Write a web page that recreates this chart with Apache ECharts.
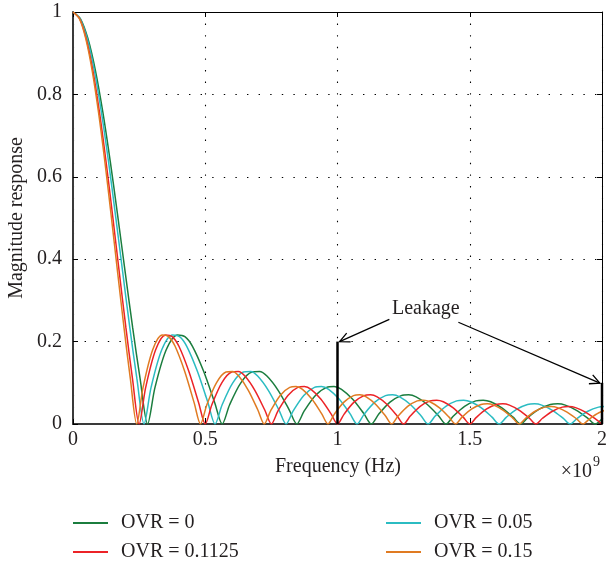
<!DOCTYPE html>
<html><head><meta charset="utf-8">
<script src="https://cdn.jsdelivr.net/npm/echarts@6/dist/echarts.min.js"></script>
<style>html,body{margin:0;padding:0;background:#fff}#c{width:608px;height:563px}</style>
</head><body><div id="c"></div>
<script>
// ---- data (frequency in units of 1e9 Hz, magnitude response) ----
const seriesNames = ['OVR = 0', 'OVR = 0.05', 'OVR = 0.1125', 'OVR = 0.15'];
const xTickLabels = ['0', '0.5', '1', '1.5', '2'];
const yTickLabels = ['0', '0.2', '0.4', '0.6', '0.8', '1'];

const freqGreen = [0,0.0282,0.0564,0.0846,0.1128,0.141,0.1692,0.1974,0.2256,0.2538,0.282,
 0.3102,0.3525,0.3948,0.423,0.4512,0.4935,0.5358,0.564,
 0.5922,0.6345,0.6768,0.705,0.7332,0.7755,0.8178,0.846,
 0.8742,0.9165,0.9588,0.987,1.0152,1.0575,1.0998,1.128,
 1.1562,1.1985,1.2408,1.269,1.2972,1.3395,1.3818,1.41,
 1.4382,1.4805,1.5228,1.551,1.5792,1.6215,1.6638,1.692,
 1.7202,1.7625,1.8048,1.833,1.8612,1.9035,1.9458,1.974,
 2.0022];
const magGreen = [1,0.9836,0.9355,0.8584,0.7568,0.6366,0.5046,0.3679,0.2339,0.1093,0,
 0.0894,0.1801,0.2162,0.2122,0.1892,0.1286,0.0518,0,
 0.0468,0.1000,0.1261,0.1273,0.1164,0.0818,0.0339,0,
 0.0317,0.0693,0.0890,0.0909,0.0841,0.0600,0.0252,0,
 0.0240,0.0530,0.0688,0.0707,0.0658,0.0474,0.0201,0,
 0.0193,0.0429,0.0561,0.0579,0.0541,0.0391,0.0167,0,
 0.0161,0.0360,0.0473,0.0490,0.0459,0.0333,0.0143,0,
 0.0139];

const freqCyan = [0,0.0269,0.0537,0.0806,0.1074,0.1343,0.1611,0.188,0.2148,0.2417,0.2685,
 0.2954,0.3356,0.3759,0.4028,0.4296,0.4699,0.5102,0.537,
 0.5639,0.6041,0.6444,0.6713,0.6981,0.7384,0.7787,0.8055,
 0.8324,0.8726,0.9129,0.9398,0.9666,1.0069,1.0472,1.074,
 1.1009,1.1411,1.1814,1.2083,1.2351,1.2754,1.3157,1.3425,
 1.3694,1.4096,1.4499,1.4768,1.5036,1.5439,1.5842,1.611,
 1.6379,1.6781,1.7184,1.7453,1.7721,1.8124,1.8527,1.8795,
 1.9064,1.9466,1.9869,2.0138];
const magCyan = [1,0.9836,0.9355,0.8584,0.7568,0.6366,0.5046,0.3679,0.2339,0.1093,0,
 0.0894,0.1801,0.2162,0.2122,0.1892,0.1286,0.0518,0,
 0.0468,0.1000,0.1261,0.1273,0.1164,0.0818,0.0339,0,
 0.0317,0.0693,0.0890,0.0909,0.0841,0.0600,0.0252,0,
 0.0240,0.0530,0.0688,0.0707,0.0658,0.0474,0.0201,0,
 0.0193,0.0429,0.0561,0.0579,0.0541,0.0391,0.0167,0,
 0.0161,0.0360,0.0473,0.0490,0.0459,0.0333,0.0143,0,
 0.0139,0.0310,0.0409,0.0424];

const freqRed = [0,0.025,0.05,0.075,0.1,0.125,0.15,0.175,0.2,0.225,0.25,
 0.275,0.3125,0.35,0.375,0.4,0.4375,0.475,0.5,
 0.525,0.5625,0.6,0.625,0.65,0.6875,0.725,0.75,
 0.775,0.8125,0.85,0.875,0.9,0.9375,0.975,1.0,
 1.025,1.0625,1.1,1.125,1.15,1.1875,1.225,1.25,
 1.275,1.3125,1.35,1.375,1.4,1.4375,1.475,1.5,
 1.525,1.5625,1.6,1.625,1.65,1.6875,1.725,1.75,
 1.775,1.8125,1.85,1.875,1.9,1.9375,1.975,2.0];
const magRed = [1,0.9836,0.9355,0.8584,0.7568,0.6366,0.5046,0.3679,0.2339,0.1093,0,
 0.0894,0.1801,0.2162,0.2122,0.1892,0.1286,0.0518,0,
 0.0468,0.1000,0.1261,0.1273,0.1164,0.0818,0.0339,0,
 0.0317,0.0693,0.0890,0.0909,0.0841,0.0600,0.0252,0,
 0.0240,0.0530,0.0688,0.0707,0.0658,0.0474,0.0201,0,
 0.0193,0.0429,0.0561,0.0579,0.0541,0.0391,0.0167,0,
 0.0161,0.0360,0.0473,0.0490,0.0459,0.0333,0.0143,0,
 0.0139,0.0310,0.0409,0.0424,0.0398,0.0290,0.0125,0];

const freqOrange = [0,0.0241,0.0482,0.0723,0.0964,0.1205,0.1446,0.1687,0.1928,0.2169,0.241,
 0.2651,0.3013,0.3374,0.3615,0.3856,0.4218,0.4579,0.482,
 0.5061,0.5423,0.5784,0.6025,0.6266,0.6628,0.6989,0.723,
 0.7471,0.7833,0.8194,0.8435,0.8676,0.9038,0.9399,0.964,
 0.9881,1.0243,1.0604,1.0845,1.1086,1.1448,1.1809,1.205,
 1.2291,1.2653,1.3014,1.3255,1.3496,1.3858,1.4219,1.446,
 1.4701,1.5063,1.5424,1.5665,1.5906,1.6268,1.6629,1.687,
 1.7111,1.7473,1.7834,1.8075,1.8316,1.8678,1.9039,1.928,
 1.9521,1.9883,2.0244];
const magOrange = [1,0.9836,0.9355,0.8584,0.7568,0.6366,0.5046,0.3679,0.2339,0.1093,0,
 0.0894,0.1801,0.2162,0.2122,0.1892,0.1286,0.0518,0,
 0.0468,0.1000,0.1261,0.1273,0.1164,0.0818,0.0339,0,
 0.0317,0.0693,0.0890,0.0909,0.0841,0.0600,0.0252,0,
 0.0240,0.0530,0.0688,0.0707,0.0658,0.0474,0.0201,0,
 0.0193,0.0429,0.0561,0.0579,0.0541,0.0391,0.0167,0,
 0.0161,0.0360,0.0473,0.0490,0.0459,0.0333,0.0143,0,
 0.0139,0.0310,0.0409,0.0424,0.0398,0.0290,0.0125,0,
 0.0121,0.0273,0.0360];

// leakage annotation
const leakFreq = [1, 2];
const leakMag = [0.2, 0.1];
const leakLabel = 'Leakage';
const leakLabelPos = [1.206, 0.279];
const leakArrowTails = [[1.196, 0.254], [1.457, 0.247]];
const leakArrowTips = [[1.008, 0.2], [1.992, 0.099]];

// ---- chart ----
const FONT = "'Liberation Serif', 'Times New Roman', serif";
const TXT = '#231f20';
const colors = ['#1b7d3e', '#2bbcc2', '#ec2327', '#e07b22'];
const curveSets = [[freqGreen, magGreen], [freqCyan, magCyan], [freqRed, magRed], [freqOrange, magOrange]];

const chart = echarts.init(document.getElementById('c'), null, {renderer: 'canvas'});

const dotted = {color: '#000', type: [1.4, 10.2], width: 1.1};
function valueAxis(pos, isX, main) {
  const ax = {
    type: 'value', position: pos, min: 0, max: isX ? 2 : 1, interval: isX ? 0.5 : 0.2,
    axisLine: {show: true, onZero: false, lineStyle: {color: main ? '#3a3a3a' : '#000', width: main ? 2 : 1}},
    axisTick: {show: true, inside: true, length: 5, lineStyle: {color: '#000', width: 1}},
    axisLabel: {show: main, fontFamily: FONT, fontSize: 20, color: TXT, margin: isX ? 6 : 11,
      showMinLabel: true, showMaxLabel: true,
      formatter: function (v) {
        const i = Math.round(v / (isX ? 0.5 : 0.2));
        return isX ? xTickLabels[i] : yTickLabels[i];
      }},
    splitLine: {show: main, lineStyle: dotted}
  };
  return ax;
}

const series = curveSets.map(function (cs, k) {
  return {
    name: seriesNames[k], type: 'line', xAxisIndex: 0, yAxisIndex: 0,
    data: cs[0].map(function (f, i) { return [f, cs[1][i]]; }),
    showSymbol: false, symbol: 'none', smooth: 0.3, clip: true, silent: true,
    lineStyle: {color: colors[k], width: 1.5},
    itemStyle: {color: colors[k]},
    z: 3
  };
});
leakFreq.forEach(function (f, i) {
  series.push({
    name: 'leak' + i, type: 'line', xAxisIndex: 0, yAxisIndex: 0,
    data: [[f, 0], [f, leakMag[i]]], showSymbol: false, symbol: 'none', clip: false, silent: true,
    lineStyle: {color: '#000', width: 2.5}, z: 5
  });
});

const legendCommon = {
  orient: 'vertical', icon: 'rect', itemWidth: 35, itemHeight: 2, itemGap: 9, padding: 0,
  selectedMode: false,
  textStyle: {fontFamily: FONT, fontSize: 20, color: TXT, lineHeight: 20, padding: [0, 0, 0, 8]}
};

chart.setOption({
  animation: false,
  backgroundColor: '#fff',
  grid: {left: 73, right: 6, top: 12, bottom: 139, containLabel: false, outerBoundsMode: 'none'},
  xAxis: [valueAxis('bottom', true, true), valueAxis('top', true, false)],
  yAxis: [valueAxis('left', false, true), valueAxis('right', false, false)],
  legend: [
    Object.assign({}, legendCommon, {left: 73, top: 513, data: [seriesNames[0], seriesNames[2]]}),
    Object.assign({}, legendCommon, {left: 386, top: 513, data: [seriesNames[1], seriesNames[3]]})
  ],
  series: series
});

const g = [
  {type: 'text', x: 17, y: 218, rotation: Math.PI / 2, z: 10,
   style: {text: 'Magnitude response', font: '20px ' + FONT, fill: TXT, align: 'center', verticalAlign: 'middle'}},
  {type: 'text', x: 338, y: 467, z: 10,
   style: {text: 'Frequency (Hz)', font: '20px ' + FONT, fill: TXT, align: 'center', verticalAlign: 'middle'}},
  {type: 'text', x: 592, y: 472, z: 10,
   style: {text: '\u00d710', font: '20px ' + FONT, fill: TXT, align: 'right', verticalAlign: 'middle'}},
  {type: 'text', x: 593, y: 462, z: 10,
   style: {text: '9', font: '14px ' + FONT, fill: TXT, align: 'left', verticalAlign: 'middle'}}
];
const lp = chart.convertToPixel({gridIndex: 0}, leakLabelPos);
g.push({type: 'text', x: lp[0], y: lp[1], z: 10,
  style: {text: leakLabel, font: '20px ' + FONT, fill: TXT, align: 'left', verticalAlign: 'middle'}});
leakArrowTails.forEach(function (t, i) {
  const S = chart.convertToPixel({gridIndex: 0}, t);
  const T = chart.convertToPixel({gridIndex: 0}, leakArrowTips[i]);
  const dx = S[0] - T[0], dy = S[1] - T[1];
  const len = Math.sqrt(dx * dx + dy * dy);
  const ux = dx / len, uy = dy / len;
  const a = 26 * Math.PI / 180, L = 11;
  const A = [T[0] + L * (ux * Math.cos(a) - uy * Math.sin(a)), T[1] + L * (ux * Math.sin(a) + uy * Math.cos(a))];
  const B = [T[0] + L * (ux * Math.cos(a) + uy * Math.sin(a)), T[1] + L * (-ux * Math.sin(a) + uy * Math.cos(a))];
  g.push({type: 'line', z: 10, shape: {x1: S[0], y1: S[1], x2: T[0], y2: T[1]}, style: {stroke: '#000', lineWidth: 1.3}});
  g.push({type: 'polyline', z: 10, shape: {points: [A, T, B]}, style: {stroke: '#000', lineWidth: 1.3, fill: null}});
});
chart.setOption({graphic: g});
</script>
</body></html>
